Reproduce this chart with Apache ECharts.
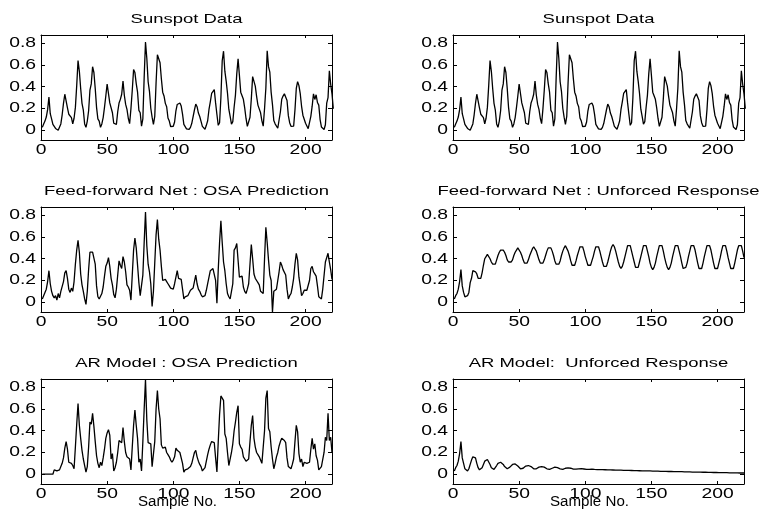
<!DOCTYPE html>
<html><head><meta charset="utf-8">
<script src="https://cdn.jsdelivr.net/npm/echarts@6/dist/echarts.min.js"></script>
<style>html,body{margin:0;padding:0;background:#fff}#c{width:767px;height:521px}</style>
</head><body><div id="c"></div>
<script>
// Normalised yearly sunspot numbers, samples 1..221
const sunspot = [0.026,0.058,0.084,0.121,0.189,0.305,0.152,0.105,0.053,0.042,
0.016,0.000,0.000,0.011,0.058,0.142,0.247,0.331,0.315,0.205,
0.147,0.137,0.116,0.058,0.110,0.210,0.410,0.641,0.542,0.384,
0.247,0.184,0.058,0.026,0.084,0.179,0.368,0.426,0.584,0.531,
0.384,0.210,0.105,0.084,0.026,0.058,0.116,0.210,0.315,0.425,
0.438,0.251,0.251,0.161,0.064,0.050,0.054,0.170,0.250,0.284,
0.331,0.452,0.322,0.237,0.191,0.110,0.060,0.199,0.367,0.558,
0.530,0.429,0.350,0.183,0.161,0.037,0.104,0.486,0.812,0.662,
0.446,0.358,0.202,0.120,0.054,0.127,0.436,0.694,0.688,0.621,
0.473,0.350,0.315,0.247,0.216,0.112,0.084,0.034,0.022,0.036,
0.076,0.179,0.237,0.227,0.250,0.222,0.148,0.053,0.043,0.013,
0.000,0.007,0.026,0.064,0.073,0.186,0.241,0.216,0.158,0.126,
0.082,0.035,0.021,0.009,0.045,0.087,0.191,0.261,0.338,0.352,
0.373,0.251,0.145,0.045,0.069,0.299,0.639,0.727,0.543,0.451,
0.340,0.193,0.127,0.056,0.079,0.211,0.323,0.518,0.656,0.506,
0.350,0.339,0.284,0.205,0.108,0.035,0.023,0.119,0.288,0.493,
0.504,0.406,0.311,0.231,0.247,0.160,0.086,0.038,0.198,0.389,
0.731,0.585,0.534,0.348,0.235,0.089,0.059,0.065,0.018,0.032,
0.170,0.285,0.314,0.335,0.334,0.274,0.134,0.069,0.036,0.033,
0.037,0.187,0.384,0.447,0.410,0.336,0.220,0.138,0.140,0.064,
0.050,0.014,0.026,0.128,0.221,0.334,0.283,0.326,0.255,0.231,
0.098,0.030,0.019,0.007,0.050,0.249,0.300,0.546,0.424,0.334,
0.198];

// Feed-forward net, one-step-ahead prediction, samples 1..220
const ffOsa = [0.03,0.06,0.09,0.12,0.19,0.29,0.17,0.10,0.06,0.04,
0.06,0.02,0.08,0.04,0.10,0.11,0.19,0.27,0.29,0.22,
0.12,0.09,0.13,0.10,0.19,0.35,0.48,0.57,0.46,0.26,
0.16,0.10,0.03,-0.02,0.10,0.30,0.46,0.47,0.46,0.45,
0.35,0.15,0.05,0.03,0.02,0.08,0.14,0.24,0.33,0.36,
0.41,0.33,0.22,0.16,0.07,0.04,0.12,0.25,0.38,0.34,
0.31,0.42,0.37,0.28,0.16,0.14,0.11,0.02,0.25,0.48,
0.59,0.50,0.34,0.18,0.06,0.05,0.25,0.55,0.83,0.52,
0.35,0.28,0.17,-0.04,0.10,0.36,0.62,0.76,0.58,0.48,
0.33,0.20,0.19,0.21,0.19,0.17,0.15,0.13,0.12,0.12,
0.17,0.23,0.29,0.22,0.21,0.21,0.12,0.03,0.05,0.06,
0.06,0.07,0.11,0.12,0.13,0.19,0.25,0.17,0.12,0.10,
0.07,0.05,0.04,0.06,0.11,0.17,0.23,0.29,0.30,0.31,
0.32,0.20,-0.01,0.30,0.55,0.75,0.55,0.37,0.29,0.17,
0.08,0.05,0.03,0.10,0.17,0.48,0.50,0.54,0.55,0.23,
0.24,0.24,0.14,0.10,0.08,0.12,0.17,0.35,0.53,0.40,
0.26,0.22,0.20,0.18,0.16,0.10,0.09,0.08,0.40,0.69,
0.55,0.39,0.25,0.20,-0.09,0.10,0.09,0.12,0.20,0.28,
0.37,0.34,0.30,0.29,0.25,0.12,0.03,0.06,0.08,0.14,
0.22,0.35,0.45,0.39,0.23,0.15,0.06,0.08,0.11,0.10,
0.11,0.12,0.20,0.31,0.33,0.28,0.26,0.24,0.15,0.05,
0.04,0.03,0.12,0.12,0.37,0.36,0.45,0.37,0.30,0.21];

// Feed-forward net, unforced response, samples 1..220
const ffUnforced = [0.03,0.06,0.08,0.12,0.19,0.30,0.15,0.09,0.05,0.04,
0.06,0.09,0.18,0.22,0.29,0.30,0.28,0.26,0.22,0.21,
0.22,0.27,0.34,0.40,0.42,0.44,0.43,0.40,0.37,0.35,
0.34,0.35,0.39,0.43,0.46,0.48,
0.49,0.48,0.46,0.43,0.39,0.37,0.36,0.37,0.39,0.43,0.46,0.48,
0.50,0.49,0.46,0.43,0.39,0.36,0.35,0.36,0.39,0.43,0.46,0.49,
0.51,0.50,0.47,0.43,0.39,0.36,0.35,0.36,0.39,0.43,0.47,0.50,
0.51,0.50,0.47,0.43,0.38,0.35,0.34,0.35,0.38,0.43,0.47,0.50,
0.52,0.51,0.47,0.43,0.38,0.34,0.33,0.34,0.38,0.43,0.47,0.51,
0.52,0.51,0.47,0.42,0.38,0.34,0.33,0.34,0.38,0.42,0.47,0.51,
0.52,0.51,0.47,0.42,0.37,0.33,0.32,0.33,0.37,0.42,0.47,0.51,
0.53,0.51,0.47,0.42,0.37,0.33,0.31,0.33,0.37,0.42,0.47,0.52,
0.53,0.52,0.47,0.42,0.37,0.32,0.31,0.32,0.37,0.42,0.47,0.52,
0.53,0.52,0.47,0.42,0.36,0.32,0.30,0.32,0.36,0.42,0.47,0.52,
0.53,0.52,0.47,0.41,0.36,0.32,0.30,0.32,0.36,0.42,0.47,0.52,
0.53,0.52,0.47,0.42,0.36,0.31,0.30,0.32,0.36,0.42,0.47,0.52,
0.53,0.52,0.48,0.42,0.36,0.31,0.30,0.31,0.36,0.42,0.47,0.52,
0.53,0.52,0.48,0.42,0.36,0.31,0.30,0.31,0.36,0.41,0.47,0.52,
0.53,0.52,0.47,0.41,0.36,0.31,0.30,0.31,0.36,0.42,0.48,0.52,
0.53,0.52,0.47,0.41];

// AR model, one-step-ahead prediction, samples 1..220
const arOsa = [0,0,0,0,0,0,0,0,0,
0.04,0.03,0.03,0.02,0.04,0.07,0.10,0.15,0.24,0.30,0.23,
0.11,0.10,0.10,0.08,0.05,0.25,0.46,0.65,0.45,0.33,
0.22,0.14,0.08,0.02,0.07,0.25,0.48,0.46,0.56,0.44,
0.30,0.17,0.10,0.06,0.11,0.08,0.15,0.23,0.33,0.38,
0.41,0.36,0.14,0.19,0.03,0.06,0.11,0.20,0.31,0.30,
0.29,0.43,0.30,0.20,0.16,0.15,0.14,0.04,0.25,0.45,
0.59,0.45,0.33,0.11,0.14,0.03,0.30,0.60,0.87,0.50,
0.29,0.29,0.28,0.07,0.07,0.30,0.60,0.77,0.60,0.51,
0.27,0.24,0.23,0.25,0.20,0.18,0.16,0.13,0.11,0.13,
0.16,0.24,0.22,0.21,0.20,0.19,0.10,0.02,0.04,0.05,
0.05,0.04,0.07,0.10,0.15,0.20,0.22,0.16,0.12,0.09,
0.07,0.03,0.02,0.06,0.12,0.18,0.23,0.27,0.30,0.30,
0.29,0.15,0.02,0.30,0.55,0.72,0.70,0.68,0.37,0.33,
0.20,0.08,0.09,0.20,0.28,0.40,0.48,0.57,0.63,0.28,
0.25,0.23,0.16,0.14,0.12,0.12,0.14,0.30,0.45,0.54,
0.33,0.25,0.20,0.18,0.16,0.13,0.10,0.10,0.40,0.70,
0.77,0.42,0.39,0.25,0.14,0.05,0.10,0.16,0.20,0.26,
0.30,0.33,0.32,0.31,0.29,0.15,0.07,0.06,0.05,0.09,
0.14,0.30,0.45,0.39,0.19,0.11,0.14,0.07,0.11,0.10,
0.10,0.11,0.11,0.23,0.33,0.23,0.28,0.17,0.13,0.04,
0.04,0.07,0.08,0.20,0.34,0.31,0.56,0.31,0.34,0.20];

// AR model, unforced response, samples 1..220
const arUnforced = [0.03,0.06,0.08,0.12,0.19,0.30,0.15,0.10,0.05,0.04,
0.03,0.05,0.09,0.13,0.16,0.17,0.15,0.10,0.06,0.04,
0.04,0.06,0.09,0.12,0.13,0.135,0.12,0.09,0.06,0.045,
0.045,0.06,0.08,0.10,0.11,0.11,0.105,0.09,0.07,0.055,
0.05,0.055,0.065,0.08,0.09,0.095,0.095,0.09,0.075,0.06,
0.05,0.05,0.055,0.065,0.075,0.08,0.08,0.08,0.07,0.06,
0.05,0.045,0.05,0.055,0.065,0.07,0.07,0.07,0.065,0.055,
0.05,0.045,0.045,0.05,0.055,0.06,0.065,0.065,0.06,0.055,
0.05,0.045,0.045,0.05,0.055,0.057,0.058,0.058,0.055,0.05,
0.047,0.045,0.046,0.048,0.05,0.051,0.051,0.05,0.048,0.046,
0.045,0.045,0.045,0.046,0.046,0.045,0.044,0.043,0.043,0.043,
0.043,0.043,0.042,0.041,0.041,0.040,0.040,0.040,0.040,0.039,
0.039,0.038,0.038,0.038,0.037,0.037,0.037,0.036,0.036,0.036,
0.035,0.035,0.035,0.034,0.034,0.034,0.033,0.033,0.033,0.032,
0.032,0.032,0.031,0.031,0.031,0.030,0.030,0.030,0.030,0.029,
0.029,0.029,0.028,0.028,0.028,0.027,0.027,0.027,0.027,0.026,
0.026,0.026,0.025,0.025,0.025,0.025,0.024,0.024,0.024,0.023,
0.023,0.023,0.023,0.022,0.022,0.022,0.021,0.021,0.021,0.021,
0.020,0.020,0.020,0.020,0.019,0.019,0.019,0.019,0.018,0.018,
0.018,0.018,0.017,0.017,0.017,0.017,0.016,0.016,0.016,0.016,
0.015,0.015,0.015,0.015,0.014,0.014,0.014,0.014,0.013,0.013,
0.013,0.013,0.012,0.012,0.012,0.012,0.011,0.011,0.011,0.011];

const xTicks = [0, 50, 100, 150, 200];
const xTickLabels = ['0', '50', '100', '150', '200'];
const yTicks = [0, 0.2, 0.4, 0.6, 0.8];
const yTickLabels = ['0', '0.2', '0.4', '0.6', '0.8'];
const titles = ['Sunspot Data', 'Sunspot Data',
  'Feed-forward Net : OSA Prediction', 'Feed-forward Net : Unforced Response',
  'AR Model : OSA Prediction', 'AR Model:  Unforced Response'];
const xAxisName = 'Sample No.';
const panelSeries = [sunspot, sunspot, ffOsa, ffUnforced, arOsa, arUnforced];

const FONT = '"Liberation Sans", Arial, Helvetica, sans-serif';
const COLS = [41, 453], ROWS = [35, 207, 379], W = 291, H = 105;

function textEl(text, x, y, size, sx, align) {
  return { type: 'text', x: x, y: y, scaleX: sx, silent: true, z: 10,
    style: { text: text, fill: '#000', font: size + 'px ' + FONT,
      align: align, verticalAlign: 'middle', textAlign: align, textVerticalAlign: 'middle' } };
}

const chart = echarts.init(document.getElementById('c'), null, { renderer: 'canvas' });
const grids = [], xAxes = [], yAxes = [], series = [], graphics = [];
for (let p = 0; p < 6; p++) {
  const left = COLS[p % 2], top = ROWS[Math.floor(p / 2)];
  grids.push({ left: left, top: top, width: W, height: H, show: false });
  const line = { show: true, onZero: false, lineStyle: { color: '#000', width: 1 } };
  const tick = (vals, len) => ({ show: true, inside: true, length: len, customValues: vals,
    lineStyle: { color: '#000', width: 1 } });
  ['bottom', 'top'].forEach(pos => xAxes.push({ type: 'value', gridIndex: p, position: pos,
    min: 0, max: 220, axisLine: line, axisTick: tick(xTicks, 3),
    axisLabel: { show: false, customValues: xTicks }, splitLine: { show: false } }));
  ['left', 'right'].forEach(pos => yAxes.push({ type: 'value', gridIndex: p, position: pos,
    min: -0.09, max: 0.876, axisLine: line, axisTick: tick(yTicks, 4),
    axisLabel: { show: false, customValues: yTicks }, splitLine: { show: false } }));
  series.push({ type: 'line', xAxisIndex: 2 * p, yAxisIndex: 2 * p,
    data: panelSeries[p].map((v, k) => [k + 1, v]),
    showSymbol: false, symbol: 'none', clip: true, silent: true,
    lineStyle: { color: '#000', width: 1.3 } });
  graphics.push(textEl(titles[p], left + W / 2, top - 16, 13, 1.42, 'center'));
  if (p >= 4) graphics.push(textEl(xAxisName, left + W / 2 - 9, 502, 14, 1.08, 'center'));
}

chart.setOption({ animation: false, backgroundColor: '#fff', grid: grids,
  xAxis: xAxes, yAxis: yAxes, series: series });

for (let p = 0; p < 6; p++) {
  const left = COLS[p % 2], top = ROWS[Math.floor(p / 2)];
  xTicks.forEach((v, j) => {
    const px = chart.convertToPixel({ xAxisIndex: 2 * p }, v);
    graphics.push(textEl(xTickLabels[j], px, top + H + 10.5, 14, 1.38, 'center'));
  });
  yTicks.forEach((v, j) => {
    const py = chart.convertToPixel({ yAxisIndex: 2 * p }, v);
    graphics.push(textEl(yTickLabels[j], left - 5, py, 14, 1.38, 'right'));
  });
}
chart.setOption({ graphic: { elements: graphics } });
</script>
</body></html>
